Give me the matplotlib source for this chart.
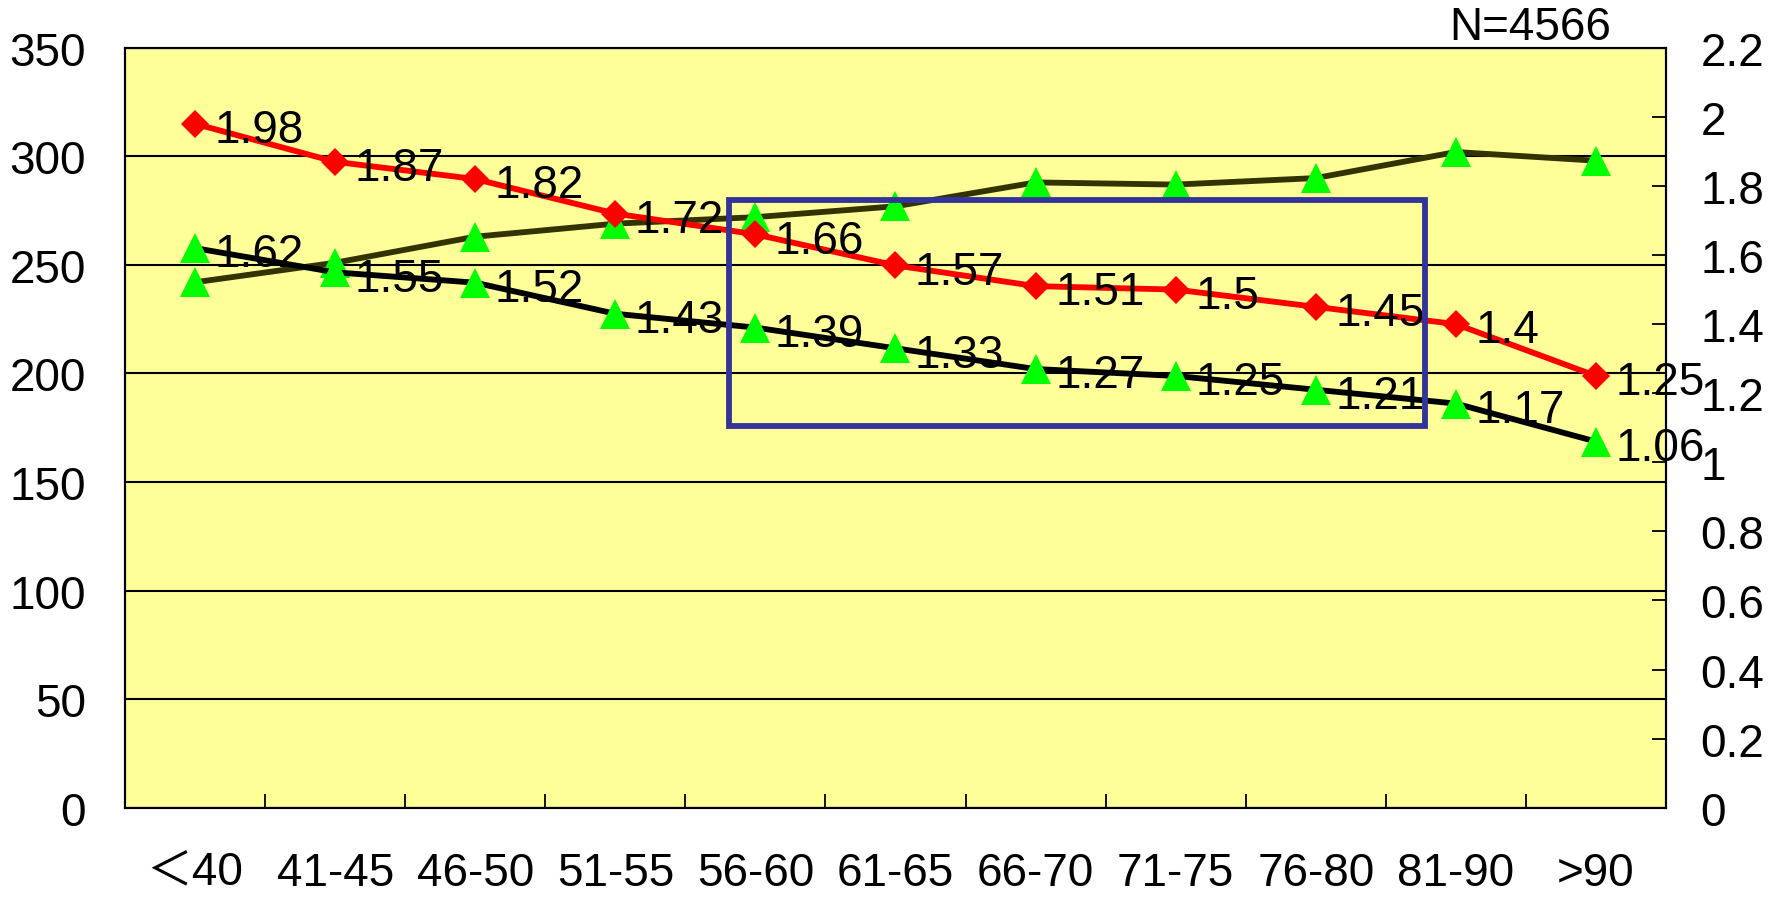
import matplotlib
matplotlib.use("Agg")
import matplotlib.pyplot as plt
from matplotlib.patches import Rectangle
import numpy as np

plt.rcParams['font.family'] = ['Liberation Sans', 'Noto Sans CJK SC', 'DejaVu Sans']

# ---- data ----
categories = ["＜40", "41-45", "46-50", "51-55", "56-60", "61-65",
              "66-70", "71-75", "76-80", "81-90", ">90"]
count_series = [242, 251, 263, 269, 272, 277, 288, 287, 290, 302, 298]   # left axis
red_series = [1.98, 1.87, 1.82, 1.72, 1.66, 1.57, 1.51, 1.5, 1.45, 1.4, 1.25]   # right axis
black_series = [1.62, 1.55, 1.52, 1.43, 1.39, 1.33, 1.27, 1.25, 1.21, 1.17, 1.06]  # right axis
left_ticks = [0, 50, 100, 150, 200, 250, 300, 350]
right_ticks = [0, 0.2, 0.4, 0.6, 0.8, 1.0, 1.2, 1.4, 1.6, 1.8, 2.0, 2.2]
right_tick_labels = ["0", "0.2", "0.4", "0.6", "0.8", "1", "1.2", "1.4", "1.6", "1.8", "2", "2.2"]
note_text = "N=4566"
# highlighted box (category index range, right-axis value range)
box_x = (3.81, 8.78)
box_y = (1.105, 1.76)

W, H = 1781, 903
FS = 33

fig = plt.figure(figsize=(W / 100, H / 100), dpi=100)
left, right, top, bottom = 125, 1666, 48.8, 808.7
ax = fig.add_axes([left / W, 1 - bottom / H, (right - left) / W, (bottom - top) / H])
ax.set_facecolor('#FFFF99')
x = np.arange(len(categories))
ax.set_xlim(-0.5, len(categories) - 0.5)
ax.set_ylim(0, 350)

ax.set_yticks(left_ticks)
ax.set_yticklabels([str(t) for t in left_ticks], fontsize=FS)
ax.tick_params(axis='y', length=0, pad=28)
ax.yaxis.grid(True, color='black', linewidth=1.5)
ax.set_axisbelow(True)

ax.set_xticks(x)
ax.set_xticklabels(categories, fontsize=FS)
ax.tick_params(axis='x', which='major', length=0, pad=31)
ax.set_xticks(np.arange(0.5, len(categories) - 0.5, 1), minor=True)
ax.tick_params(axis='x', which='minor', direction='in', length=10, width=1.3, color='black')

for s in ax.spines.values():
    s.set_color('black')
    s.set_linewidth(1.5)

ax.plot(x, count_series, color='#333300', linewidth=4.2, marker='^',
        markersize=22, markerfacecolor='#00FF00', markeredgecolor='#00FF00',
        markeredgewidth=0, zorder=3)

ax2 = ax.twinx()
ax2.set_ylim(0, 2.2)
ax2.set_yticks(right_ticks)
ax2.set_yticklabels(right_tick_labels, fontsize=FS)
ax2.tick_params(axis='y', direction='in', length=10, width=1.3, pad=25)
for s in ax2.spines.values():
    s.set_color('black')
    s.set_linewidth(1.5)

ax2.plot(x, black_series, color='black', linewidth=4.2, marker='^',
         markersize=22, markerfacecolor='#00FF00', markeredgecolor='#00FF00',
         markeredgewidth=0, zorder=3)
ax2.plot(x, red_series, color='#FF0000', linewidth=4.2, marker='D',
         markersize=14.5, markerfacecolor='#FF0000', markeredgecolor='#FF0000',
         markeredgewidth=0, zorder=4)

for xi, v in zip(x, red_series):
    ax2.annotate(f"{v:g}", (xi, v), xytext=(14, -4.5), textcoords='offset points',
                 ha='left', va='center', fontsize=FS, zorder=5)
for xi, v in zip(x, black_series):
    ax2.annotate(f"{v:g}", (xi, v), xytext=(14, -4.5), textcoords='offset points',
                 ha='left', va='center', fontsize=FS, zorder=5)

ax2.add_patch(Rectangle((box_x[0], box_y[0]), box_x[1] - box_x[0], box_y[1] - box_y[0],
                        fill=False, edgecolor='#333399', linewidth=4.2, zorder=6))

fig.text(1530 / W, 1 - 28 / H, note_text, fontsize=FS, ha='center', va='center')

fig.savefig("out.png", dpi=100, facecolor='white')
